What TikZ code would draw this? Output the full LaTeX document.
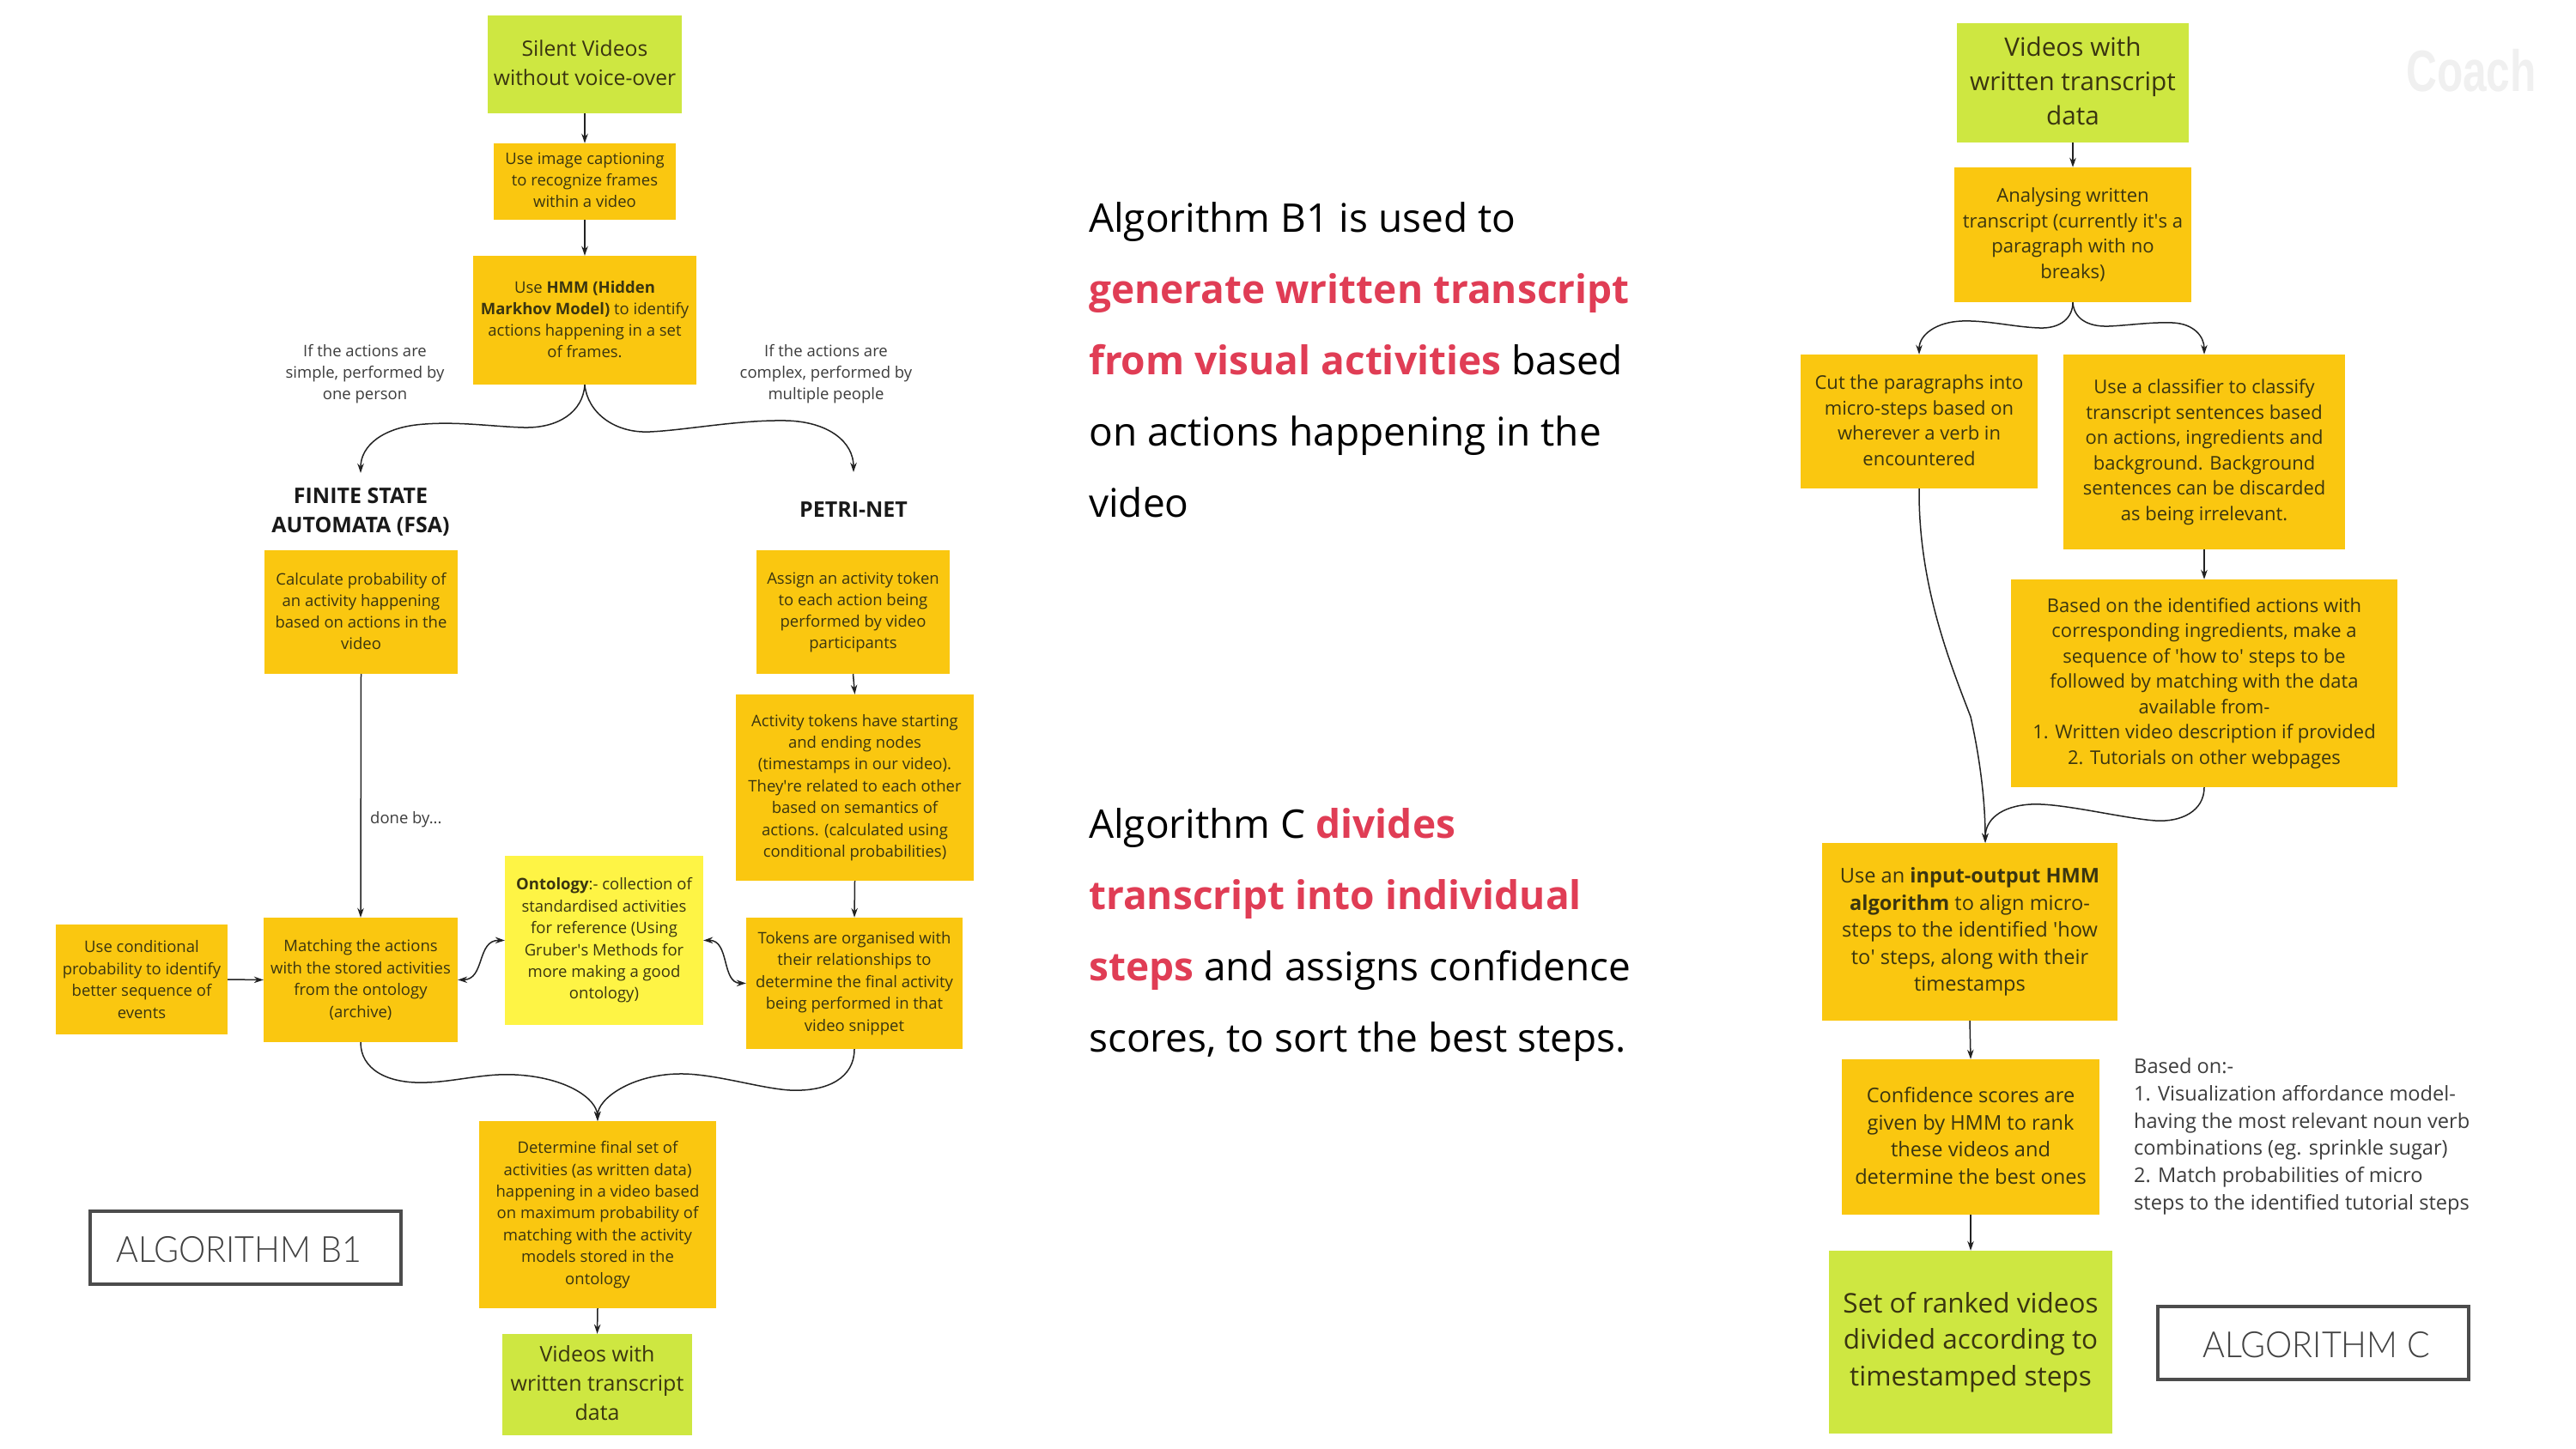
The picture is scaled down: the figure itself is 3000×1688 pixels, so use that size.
\documentclass[tikz,border=0pt]{standalone}
\usepackage{fontspec}
\setmainfont{Open Sans}
\newfontfamily\algofont{Lato Light}
\newfontfamily\coachfont{Liberation Sans}
\usetikzlibrary{arrows.meta}
\definecolor{boxorange}{HTML}{FAC710}
\definecolor{boxlime}{HTML}{CEE741}
\definecolor{boxyellow}{HTML}{FEF445}
\definecolor{inkbox}{HTML}{3A3510}
\definecolor{inklabel}{HTML}{3C3C3C}
\definecolor{linecol}{HTML}{222222}
\definecolor{redtext}{HTML}{E03D55}
\newcommand{\fs}[2]{\fontsize{#1}{#2}\selectfont}
\newcommand{\red}[1]{\textcolor{redtext}{\textbf{#1}}}
\newcommand{\sq}{\textquotesingle}
\newcommand{\lift}[1]{\rule[-#1pt]{0pt}{#1pt}}
\tikzset{
  flow/.style={draw=none,inner sep=0pt,align=center,text=inkbox},
  ob/.style={flow,fill=boxorange},
  lb/.style={flow,fill=boxlime},
  yb/.style={flow,fill=boxyellow},
  note/.style={inner sep=0pt,align=center,text=inklabel},
  head/.style={inner sep=0pt,align=center,text=black!90,font=\bfseries\fs{25}{34}},
  para/.style={inner sep=0pt,align=left,anchor=west,text=black,font=\fs{46}{83}},
  algo/.style={draw=black!70,line width=4pt,fill=white,inner sep=0pt,text=black!75},
  algotext/.style={inner sep=0pt,text=black!75,xscale=0.94,font=\algofont\fs{42}{50}},
  con/.style={draw=linecol,line width=1.5pt,-{Stealth[length=11pt,width=7.5pt]}},
  bi/.style={draw=linecol,line width=1.5pt,{Stealth[length=11pt,width=7.5pt]}-{Stealth[length=11pt,width=7.5pt]}}
}
\begin{document}
\begin{tikzpicture}[x=1pt,y=-1pt]
\useasboundingbox (0,0) rectangle (3000,1688);
% Algorithm B1
\node[lb,minimum width=226pt,minimum height=114pt,font=\fs{24.7}{34}] (silent) at (681,75) {Silent Videos\\without voice-over\lift{3}};
\node[ob,minimum width=212pt,minimum height=89pt,font=\fs{18.5}{25}] (caption) at (681,211.5) {Use image captioning\\to recognize frames\\within a video\lift{3}};
\node[ob,minimum width=260pt,minimum height=150pt,font=\fs{18.5}{25}] (hmm) at (681,373) {Use \textbf{HMM (Hidden}\\\textbf{Markhov Model)} to identify\\actions happening in a set\\of frames.\lift{3}};
\node[note,font=\fs{18.5}{25}] (simple) at (425,436) {If the actions are\\simple, performed by\\one person};
\node[note,font=\fs{18.5}{25}] (complex) at (962,436) {If the actions are\\complex, performed by\\multiple people};
\node[head] (fsa) at (420,596) {FINITE STATE\\AUTOMATA (FSA)};
\node[head] (petri) at (994,594) {PETRI-NET};
\coordinate (fsain) at (420,551);
\coordinate (petriin) at (994,550);
\node[ob,minimum width=225pt,minimum height=144pt,font=\fs{18.5}{25}] (calc) at (420.5,713) {Calculate probability of\\an activity happening\\based on actions in the\\video\lift{2}};
\node[ob,minimum width=225pt,minimum height=144pt,font=\fs{18.5}{25}] (assign) at (993.5,713) {Assign an activity token\\to each action being\\performed by video\\participants};
\node[ob,minimum width=277pt,minimum height=217pt,font=\fs{18.5}{25.4}] (activity) at (995.5,917.5) {Activity tokens have starting\\and ending nodes\\(timestamps in our video).\\They\sq re related to each other\\based on semantics of\\actions. (calculated using\\conditional probabilities)};
\node[note,anchor=west,font=\fs{18.5}{25}] (doneby) at (431,955) {done by...};
\node[ob,minimum width=200pt,minimum height=128pt,font=\fs{18.5}{25.4}] (cond) at (165,1141) {Use conditional\\probability to identify\\better sequence of\\events};
\node[ob,minimum width=226pt,minimum height=145pt,font=\fs{18.5}{25.4}] (match) at (420,1141.5) {Matching the actions\\with the stored activities\\from the ontology\\(archive)};
\node[yb,minimum width=231pt,minimum height=197pt,font=\fs{18.5}{25.4}] (onto) at (703.5,1095.5) {\textbf{Ontology}:- collection of\\standardised activities\\for reference (Using\\Gruber\sq s Methods for\\more making a good\\ontology)};
\node[ob,minimum width=252pt,minimum height=153pt,font=\fs{18.5}{25.4}] (tokens) at (995,1145.5) {Tokens are organised with\\their relationships to\\determine the final activity\\being performed in that\\video snippet};
\node[ob,minimum width=276pt,minimum height=218pt,font=\fs{18.5}{25.4}] (determine) at (696,1415) {Determine final set of\\activities (as written data)\\happening in a video based\\on maximum probability of\\matching with the activity\\models stored in the\\ontology};
\node[lb,minimum width=221pt,minimum height=118pt,font=\fs{25}{34}] (vidout) at (695.5,1613) {Videos with\\written transcript\\data\lift{4}};
\node[algo,minimum width=362pt,minimum height=85pt] (algob) at (286,1453.5) {};
\node[algotext] (algobt) at (278,1456) {ALGORITHM B1};
% Text
\node[para,align=left] (parab) at (1268,419) {Algorithm B1 is used to\\\red{generate written transcript}\\\red{from visual activities} based\\on actions happening in the\\video};
\node[para,align=left] (parac) at (1268,1089) {Algorithm C \red{divides}\\\red{transcript into individual}\\\red{steps} and assigns confidence\\scores, to sort the best steps.};
% Algorithm C
\node[lb,minimum width=270pt,minimum height=139pt,font=\fs{29.7}{40}] (vidin) at (2414,96.5) {Videos with\\written transcript\\data\lift{4}};
\node[inner sep=0pt,text=black!6,font=\coachfont\bfseries\fs{68}{70},xscale=0.73] (coach) at (2878,82) {Coach};
\node[ob,minimum width=276pt,minimum height=157pt,font=\fs{22.1}{29.5}] (analyse) at (2414,273.5) {Analysing written\\transcript (currently it\sq s a\\paragraph with no\\breaks)};
\node[ob,minimum width=276pt,minimum height=156pt,font=\fs{22}{29.5}] (cut) at (2235,491) {Cut the paragraphs into\\micro-steps based on\\wherever a verb in\\encountered\lift{3}};
\node[ob,minimum width=328pt,minimum height=227pt,font=\fs{22}{29.5}] (classify) at (2567,526.5) {Use a classifier to classify\\transcript sentences based\\on actions, ingredients and\\background. Background\\sentences can be discarded\\as being irrelevant.};
\node[ob,minimum width=450pt,minimum height=242pt,font=\fs{22}{29.5}] (basedbox) at (2567,796) {Based on the identified actions with\\corresponding ingredients, make a\\sequence of \sq how to\sq{} steps to be\\followed by matching with the data\\available from-\\1. Written video description if provided\\2. Tutorials on other webpages};
\node[ob,minimum width=344pt,minimum height=207pt,font=\fs{23.6}{31.6}] (iohmm) at (2294,1085.5) {Use an \textbf{input-output HMM}\\\textbf{algorithm} to align micro-\\steps to the identified \sq how\\to\sq{} steps, along with their\\timestamps};
\node[ob,minimum width=300pt,minimum height=181pt,font=\fs{23.6}{31.6}] (confid) at (2295,1324.5) {Confidence scores are\\given by HMM to rank\\these videos and\\determine the best ones\lift{3}};
\node[lb,minimum width=330pt,minimum height=213pt,font=\fs{31.5}{42.7}] (ranked) at (2295,1563.5) {Set of ranked videos\\divided according to\\timestamped steps};
\node[note,align=left,anchor=west,font=\fs{23.6}{31.7}] (basedon) at (2485,1324) {Based on:-\\1. Visualization affordance model-\\having the most relevant noun verb\\combinations (eg. sprinkle sugar)\\2. Match probabilities of micro\\steps to the identified tutorial steps};
\node[algo,minimum width=362pt,minimum height=85pt] (algoc) at (2694,1564.5) {};
\node[algotext] (algoct) at (2697.5,1567) {ALGORITHM C};
% connectors
\draw[con] (silent.south) -- (caption.north);
\draw[con] (caption.south) -- (hmm.north);
\draw[con] (hmm.south) .. controls (679,480) and (650,499) .. (610,498) .. controls (575,497) and (535,491) .. (495,494) .. controls (445,497) and (420,520) .. (fsain);
\draw[con] (hmm.south) .. controls (684,480) and (715,505) .. (757,503) .. controls (800,501) and (860,489) .. (915,490) .. controls (965,491) and (994,515) .. (petriin);
\draw[con] (calc.south) -- (match.north);
\draw[con] (assign.south) -- (activity.north);
\draw[con] (activity.south) -- (tokens.north);
\draw[con] (cond.east) -- (match.west);
\draw[bi] (match.east) .. controls (565,1141) and (555,1095) .. (onto.west);
\draw[bi] (onto.east) .. controls (850,1095) and (840,1145) .. (tokens.west);
\draw[con] (match.south) .. controls (420,1245) and (450,1263) .. (497,1261) .. controls (530,1260) and (565,1250) .. (600,1252) .. controls (660,1255) and (695,1280) .. (determine.north);
\draw[con] (tokens.south) .. controls (995,1255) and (965,1272) .. (920,1270) .. controls (885,1268) and (830,1250) .. (790,1251) .. controls (735,1252) and (696,1280) .. (determine.north);
\draw[con] (determine.south) -- (vidout.north);
\draw[con] (vidin.south) -- (analyse.north);
\draw[con] (analyse.south) .. controls (2414,370) and (2400,383) .. (2375,382) .. controls (2345,381) and (2315,373) .. (2285,374) .. controls (2255,375) and (2235,390) .. (cut.north);
\draw[con] (analyse.south) .. controls (2415,370) and (2430,381) .. (2456,380) .. controls (2480,379) and (2505,375) .. (2530,376) .. controls (2555,377) and (2567,392) .. (classify.north);
\draw[con] (classify.south) -- (basedbox.north);
\draw[con] (cut.south) .. controls (2234,680) and (2270,770) .. (2295,835) .. controls (2305,880) and (2312,930) .. ([xshift=18pt]iohmm.north);
\draw[con] (basedbox.south) .. controls (2567,945) and (2540,958) .. (2510,956) .. controls (2470,953) and (2400,935) .. (2365,937) .. controls (2330,939) and (2312,955) .. ([xshift=18pt]iohmm.north);
\draw[con] (iohmm.south) -- (confid.north);
\draw[con] (confid.south) -- (ranked.north);
\end{tikzpicture}
\end{document}
